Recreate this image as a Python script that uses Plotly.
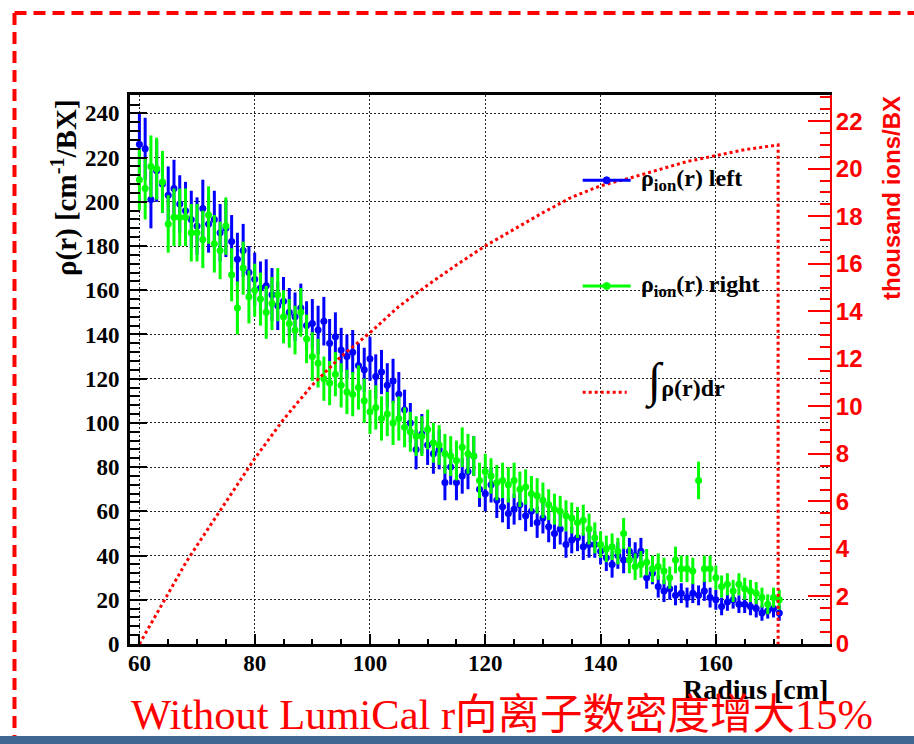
import plotly.graph_objects as go

# ---------------- data ----------------
radius = [60, 61, 62, 63, 64, 65, 66, 67, 68, 69,
          70, 71, 72, 73, 74, 75, 76, 77, 78, 79,
          80, 81, 82, 83, 84, 85, 86, 87, 88, 89,
          90, 91, 92, 93, 94, 95, 96, 97, 98, 99,
          100, 101, 102, 103, 104, 105, 106, 107, 108, 109,
          110, 111, 112, 113, 114, 115, 116, 117, 118, 119,
          120, 121, 122, 123, 124, 125, 126, 127, 128, 129,
          130, 131, 132, 133, 134, 135, 136, 137, 138, 139,
          140, 141, 142, 143, 144, 145, 146, 147, 148, 149,
          150, 151, 152, 153, 154, 155, 156, 157, 158, 159,
          160, 161, 162, 163, 164, 165, 166, 167, 168, 169, 170, 171]

rho_left = [226, 224, 201, 214, 208, 203, 206, 199, 196, 192,
            189, 197, 190, 192, 186, 188, 182, 174, 178, 168,
            165, 161, 162, 158, 153, 155, 150, 148, 152, 144,
            145, 142, 146, 136, 139, 133, 130, 132, 126, 124,
            129, 121, 123, 117, 119, 113, 106, 100, 88, 95,
            90, 86, 88, 73, 80, 73, 76, 78, 85, 70,
            68, 72, 65, 62, 59, 61, 63, 58, 60, 55,
            57, 53, 50, 52, 45, 47, 48, 44, 45, 45,
            42, 39, 36, 40, 38, 42, 40, 42, 30, 32,
            26, 24, 25, 22, 23, 21, 23, 22, 24, 21,
            20, 17, 19, 20, 18, 18, 17, 16, 14, 15, 16, 14]

err_left = [14, 14, 13, 14, 13, 13, 13, 13, 13, 13,
            13, 13, 13, 13, 13, 13, 12, 12, 12, 12,
            12, 12, 12, 12, 11, 11, 11, 11, 11, 11,
            11, 11, 11, 11, 11, 10, 10, 10, 10, 10,
            10, 10, 10, 10, 10, 10, 9, 9, 9, 9,
            9, 9, 9, 8, 8, 8, 8, 8, 9, 8,
            8, 8, 8, 7, 7, 7, 7, 7, 7, 7,
            7, 7, 7, 7, 6, 6, 6, 6, 6, 6,
            6, 6, 6, 6, 6, 6, 6, 6, 5, 5,
            5, 5, 5, 4.5, 4.5, 4.5, 4.5, 4.5, 4.5, 4.5,
            4.5, 4, 4, 4, 4, 4, 4, 4, 3.5, 3.5, 4, 3.5]

rho_right = [210, 206, 216, 215, 209, 190, 193, 193, 193, 186,
             186, 183, 194, 181, 178, 189, 167, 152, 170, 157,
             160, 156, 150, 154, 158, 148, 145, 142, 150, 138,
             130, 127, 120, 118, 122, 117, 114, 113, 116, 110,
             105, 107, 102, 104, 100, 102, 98, 96, 94, 94,
             97, 91, 90, 86, 85, 83, 89, 86, 85, 74,
             78, 76, 73, 74, 72, 74, 70, 71, 68, 67,
             65, 63, 61, 60, 58, 57, 55, 56, 52, 48,
             45, 43, 44, 42, 50, 38, 35, 36, 37, 34,
             35, 33, 30, 38, 34, 34, 33, 74, 34, 34,
             30, 26, 27, 24, 27, 25, 24, 23, 21, 18, 21, 20]

err_right = [14, 14, 14, 14, 14, 13, 13, 13, 13, 13,
             13, 13, 13, 13, 13, 13, 12, 12, 12, 12,
             12, 12, 12, 12, 12, 12, 11, 11, 11, 11,
             11, 11, 10, 10, 10, 10, 10, 10, 10, 10,
             10, 10, 10, 10, 10, 10, 9, 9, 9, 9,
             9, 9, 9, 9, 9, 9, 9, 9, 9, 8,
             8, 8, 8, 8, 8, 8, 8, 8, 8, 8,
             8, 7, 7, 7, 7, 7, 7, 7, 7, 7,
             6, 6, 6, 6, 7, 6, 6, 6, 6, 6,
             6, 6, 5, 6, 6, 6, 6, 8.5, 6, 6,
             5.5, 5, 5, 5, 5, 5, 5, 5, 4.5, 4.5, 4.5, 4.5]

# integral curve, thousand ions / BX (right axis)
cum_r = [60, 62, 64, 66, 68, 70, 75, 80, 85, 90, 95, 100, 105, 110, 115,
         120, 125, 130, 135, 140, 145, 150, 155, 160, 165, 170, 170.8, 170.8]
cum_v = [0, 0.85, 1.75, 2.6, 3.4, 4.15, 6.0, 7.8, 9.45, 10.9, 12.1, 13.1, 14.2,
         15.1, 15.95, 16.75, 17.45, 18.15, 18.8, 19.28, 19.6, 19.95, 20.3, 20.55,
         20.8, 20.97, 21.0, 0]

x_err = [0.5] * len(radius)

# ---------------- figure ----------------
W, H = 914, 744
ML, MR, MT, MB = 130, 84, 95, 100
PW, PH = W - ML - MR, H - MT - MB


def px(x):
    return (x - ML) / PW


def py(y):
    return (H - MB - y) / PH


BLUE = "#0000ff"
GREEN = "#00ff00"
RED = "#ff0000"
SERIF = "Liberation Serif, Times New Roman, serif"
SANS = "Liberation Sans, Arial, sans-serif"

fig = go.Figure()

fig.add_trace(go.Scatter(
    x=radius, y=rho_left, mode="markers", name="left",
    marker=dict(color=BLUE, size=7, symbol="circle"),
    error_y=dict(type="data", array=err_left, color=BLUE, thickness=3, width=0),
    error_x=dict(type="data", array=x_err, color=BLUE, thickness=2, width=0),
    showlegend=False))

fig.add_trace(go.Scatter(
    x=radius, y=rho_right, mode="markers", name="right",
    marker=dict(color=GREEN, size=7, symbol="circle"),
    error_y=dict(type="data", array=err_right, color=GREEN, thickness=3, width=0),
    error_x=dict(type="data", array=x_err, color=GREEN, thickness=2, width=0),
    showlegend=False))

fig.add_trace(go.Scatter(
    x=cum_r, y=cum_v, mode="lines", yaxis="y2",
    line=dict(color=RED, width=3, dash="dot"),
    showlegend=False))

fig.update_layout(
    width=W, height=H, autosize=False,
    margin=dict(l=ML, r=MR, t=MT, b=MB, pad=0),
    paper_bgcolor="white", plot_bgcolor="white",
    hovermode=False,
    xaxis=dict(
        range=[58.37, 179.8], dtick=20, tick0=0,
        ticks="inside", ticklen=10, tickwidth=2, tickcolor="black",
        showline=True, linecolor="black", linewidth=3, mirror=True,
        showgrid=True, gridcolor="#222", gridwidth=1, griddash="2px,2px",
        zeroline=False, ticklabelstandoff=-4,
        tickfont=dict(family=SERIF, size=23, color="black", weight="bold"),
        minor=dict(dtick=5, ticks="inside", ticklen=5, tickwidth=2,
                   tickcolor="black", showgrid=False),
    ),
    yaxis=dict(
        range=[0, 248.3], dtick=20, tick0=0,
        ticks="inside", ticklen=17, tickwidth=2, tickcolor="black",
        showline=True, linecolor="black", linewidth=3,
        showgrid=True, gridcolor="#222", gridwidth=1, griddash="2px,2px",
        zeroline=False, ticklabelstandoff=3,
        tickfont=dict(family=SERIF, size=23, color="black", weight="bold"),
        minor=dict(dtick=4, ticks="inside", ticklen=10, tickwidth=2,
                   tickcolor="black", showgrid=False),
    ),
    yaxis2=dict(
        range=[0, 23.1], dtick=2, tick0=0, overlaying="y", side="right",
        ticks="inside", ticklen=22, tickwidth=2, tickcolor=RED,
        showline=True, linecolor=RED, linewidth=2,
        showgrid=False, zeroline=False, ticklabelstandoff=-1,
        tickfont=dict(family=SANS, size=24, color=RED, weight="bold"),
        minor=dict(dtick=0.5, ticks="inside", ticklen=10, tickwidth=2,
                   tickcolor=RED, showgrid=False),
    ),
)

shapes = []
# red dashed frame (top and left)
shapes.append(dict(type="line", xref="paper", yref="paper",
                   x0=px(14.5), x1=px(914), y0=py(13), y1=py(13),
                   line=dict(color=RED, width=4, dash="12px,7px")))
shapes.append(dict(type="line", xref="paper", yref="paper",
                   x0=px(14.5), x1=px(14.5), y0=py(13), y1=py(744),
                   line=dict(color=RED, width=4, dash="12px,7px")))
# bottom slide bar
shapes.append(dict(type="rect", xref="paper", yref="paper",
                   x0=px(0), x1=px(914), y0=py(736), y1=py(744),
                   line=dict(width=0), fillcolor="#3f6690"))
# legend samples
for yy, col in [(180.3, BLUE), (286.0, GREEN)]:
    shapes.append(dict(type="line", xref="paper", yref="paper",
                       x0=px(582.7), x1=px(630.7), y0=py(yy), y1=py(yy),
                       line=dict(color=col, width=3)))
    shapes.append(dict(type="circle", xref="paper", yref="paper",
                       x0=px(606.7 - 3.5), x1=px(606.7 + 3.5),
                       y0=py(yy + 3.5), y1=py(yy - 3.5),
                       line=dict(color=col, width=1), fillcolor=col))
shapes.append(dict(type="line", xref="paper", yref="paper",
                   x0=px(582.7), x1=px(626.7), y0=py(392.3), y1=py(392.3),
                   line=dict(color=RED, width=3, dash="dot")))
fig.update_layout(shapes=shapes)

ann = []
ann.append(dict(text="<b>ρ<sub>ion</sub>(r) left</b>", x=px(639), y=py(180),
                xanchor="left", yanchor="middle",
                font=dict(family=SERIF, size=24, color="black")))
ann.append(dict(text="<b>ρ<sub>ion</sub>(r) right</b>", x=px(639), y=py(286),
                xanchor="left", yanchor="middle",
                font=dict(family=SERIF, size=24, color="black")))
ann.append(dict(text="<span style='font-size:48px'>∫</span><b>ρ(r)dr</b>",
                x=px(643), y=py(381),
                xanchor="left", yanchor="middle",
                font=dict(family=SERIF, size=24, color="black")))
# axis titles
ann.append(dict(text="<b>ρ(r) [cm<sup>-1</sup>/BX]</b>", x=px(64), y=py(188),
                xanchor="center", yanchor="middle", textangle=-90,
                font=dict(family=SERIF, size=29, color="black")))
ann.append(dict(text="<b>thousand ions/BX</b>", x=px(891), y=py(198),
                xanchor="center", yanchor="middle", textangle=-90,
                font=dict(family=SANS, size=24, color=RED)))
ann.append(dict(text="<b>Radius [cm]</b>", x=px(830), y=py(689),
                xanchor="right", yanchor="middle",
                font=dict(family=SERIF, size=28, color="black")))
# slide caption
ann.append(dict(text="Without LumiCal r向离子数密度增大15%", x=px(129), y=py(714),
                xanchor="left", yanchor="middle",
                font=dict(family="Liberation Serif, Noto Sans CJK SC, serif",
                          size=42.5, color=RED)))
for a in ann:
    a.update(xref="paper", yref="paper", showarrow=False)
fig.update_layout(annotations=ann)

fig.write_html(
    "out.html",
    config={"displayModeBar": False, "staticPlot": True},
    post_script="document.body.style.margin='0px';"
                "document.body.style.overflow='hidden';",
)
